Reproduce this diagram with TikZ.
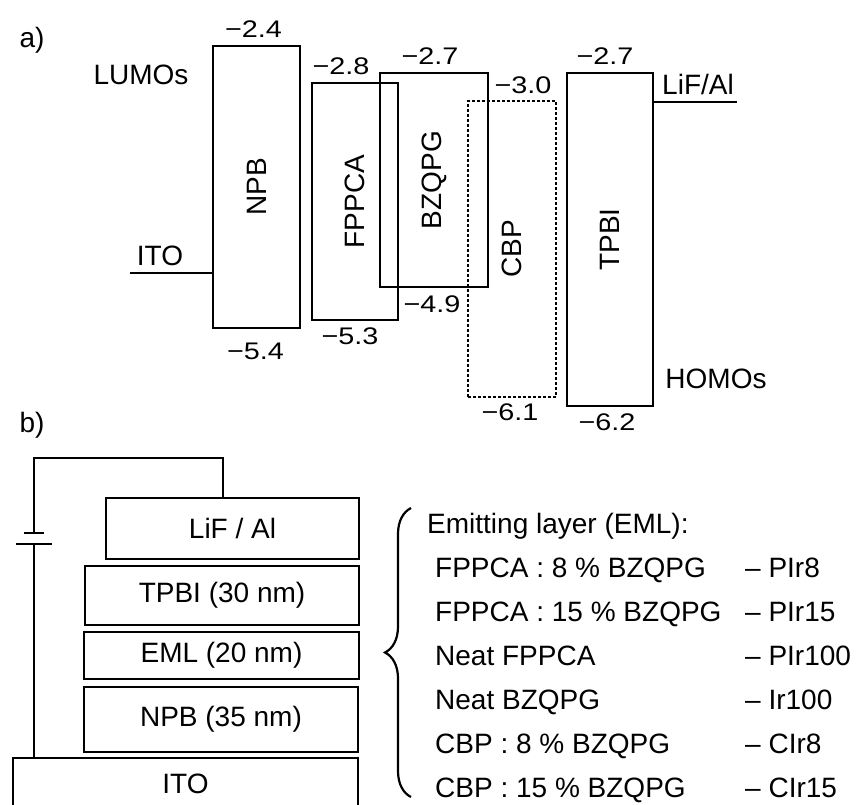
\documentclass[tikz,border=0pt]{standalone}
\usepackage{fontspec}
\setmainfont{Liberation Sans}
\newfontfamily\numfont{Liberation Sans}[FakeStretch=1.2]
\usetikzlibrary{positioning}
\usetikzlibrary{decorations.pathreplacing}

\begin{document}
\begin{tikzpicture}[
x=1pt, y=-1pt,
every node/.style={font=\fontsize{28}{30}\selectfont},
band/.style={
draw,
line width=2.8pt,
inner sep=0pt
},
num/.style={
font=\numfont\fontsize{24}{26}\selectfont,
inner sep=1pt
},
layer/.style={
draw,
line width=2.8pt,
inner sep=0pt
},
wire/.style={line width=2.6pt}
]

\useasboundingbox (0,0) rectangle (861,804);
\clip (0,0) rectangle (861,804);

% a) energy levels
\node (pa) at (32,40) {a)};
\node (lumo) at (141,75) {LUMOs};
\node (homo) at (716,379) {HOMOs};

\node[band, minimum width=87, minimum height=282] (npb) at (256.5,187) {\rotatebox{90}{NPB}};
\node[band, minimum width=86, minimum height=237] (fpp) at (355,201.5) {\rotatebox{90}{FPPCA}};
\node[band, minimum width=108, minimum height=214] (bzq) at (434,180) {\rotatebox{90}{BZQPG}};
\node[band, dash pattern=on 2.6pt off 2.4pt, minimum width=88, minimum height=296] (cbp) at (512,249) {\rotatebox{90}{CBP}};
\node[band, minimum width=86, minimum height=333] (tpb) at (610,239.5) {\rotatebox{90}{TPBI}};

\node[num, above=6pt of npb, xshift=-3pt] {−2.4};
\node[num, above=6pt of fpp, xshift=-14pt] {−2.8};
\node[num, above=6pt of bzq, xshift=-4pt] {−2.7};
\node[num, above=5pt of cbp, xshift=11pt] {−3.0};
\node[num, above=6pt of tpb, xshift=-5pt] {−2.7};

\node[num, below=12pt of npb, xshift=-1pt] {−5.4};
\node[num, below=5pt of fpp, xshift=-5pt] {−5.3};
\node[num, below=6pt of bzq, xshift=-2pt] {−4.9};
\node[num, below=4pt of cbp, xshift=-2pt] {−6.1};
\node[num, below=5pt of tpb, xshift=-3pt] {−6.2};

\coordinate (itoend) at (130,273);
\draw[wire] (itoend) -- (itoend -| npb.west);
\node (itolab) at (160,256) {ITO};

\coordinate (lifend) at (737,102);
\draw[wire] (tpb.east |- lifend) -- (lifend);
\node (liflab) at (698,84) {LiF/Al};

% b) device stack
\node (pb) at (32,425) {b)};

\node[layer, minimum width=253, minimum height=61] (lif) at (232.5,528.5) {LiF / Al};
\node[layer, minimum width=274, minimum height=59] (tpbi) at (222,595.5) {TPBI (30 nm)};
\node[layer, minimum width=275, minimum height=47] (eml) at (221.5,655.5) {EML (20 nm)};
\node[layer, minimum width=274, minimum height=65] (npbl) at (221,719.5) {NPB (35 nm)};
\node[layer, minimum width=345, minimum height=52] (ito) at (185.5,784) {ITO};

\coordinate (bathi) at (34,533);
\coordinate (batlo) at (34,544);
\draw[wire] (bathi) -- ++(0,-75) -| ([xshift=-9.5pt]lif.north);
\draw[wire] (batlo) -- (batlo |- ito.north);
\draw[wire] ([xshift=-10pt]bathi) -- ([xshift=10pt]bathi);
\draw[wire] ([xshift=-18pt]batlo) -- ([xshift=18pt]batlo);

\coordinate (bracebot) at (411,797);
\coordinate (bracetop) at (411,508);
\draw[decorate, decoration={brace, amplitude=26pt}, line width=2.2pt] (bracebot) -- (bracetop);

\node[anchor=base west, inner sep=0pt] (emlhead) at (427,533) {Emitting layer (EML):};
\foreach \mix/\tag [count=\i] in {FPPCA : 8 \% BZQPG/PIr8, FPPCA : 15 \% BZQPG/PIr15, Neat FPPCA/PIr100, Neat BZQPG/Ir100, CBP : 8 \% BZQPG/CIr8, CBP : 15 \% BZQPG/CIr15} {
\node[anchor=base west, inner sep=0pt] (mix\i) at (435,533+44*\i) {\mix};
\node[anchor=base west, inner sep=0pt] (tag\i) at (745,533+44*\i) {– \tag};
}

\end{tikzpicture}
\end{document}
